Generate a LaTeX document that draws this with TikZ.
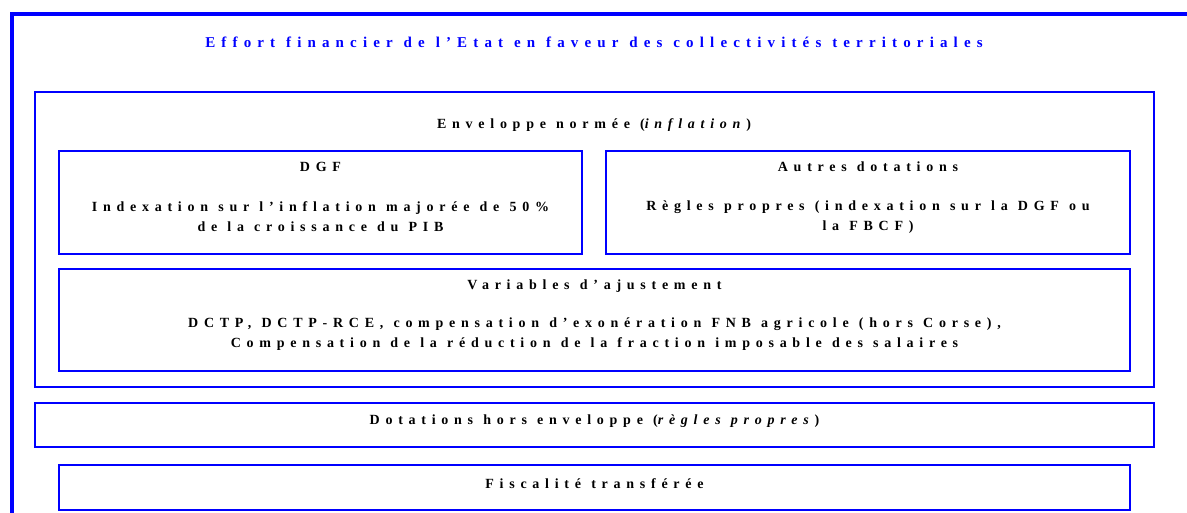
\documentclass[tikz,border=0pt]{standalone}
\usepackage{fontspec}
\setmainfont{Liberation Serif}
\newfontfamily\titlefont[LetterSpace=41,WordSpace=1.15]{Liberation Serif}
\newfontfamily\spacedfont[LetterSpace=41,WordSpace=1.1]{Liberation Serif}
\usetikzlibrary{positioning}
\definecolor{frameblue}{RGB}{0,0,255}
\newcommand{\boxfont}{\fontsize{14}{20}\spacedfont\bfseries}
\newcommand{\headfont}{\fontsize{15}{20}\titlefont\bfseries}
\begin{document}
\begin{tikzpicture}[x=1pt,y=-1pt,line join=miter,
  box/.style={draw=frameblue,line width=1.7pt,anchor=north west,inner sep=0pt,outer sep=0pt},
  lbl/.style={font=\boxfont,align=center,inner sep=0pt}]
\useasboundingbox (0,0) rectangle (1187,512);
\clip (0,0) rectangle (1187,512);
% cadre general
\draw[frameblue,line width=3.4pt] (12,540) rectangle (1220,14);
\node[lbl,font=\headfont,text=frameblue] (titre) at (594,42) {Effort financier de l’Etat en faveur des collectivités territoriales};
% enveloppe normee
\node[box,minimum width=1119,minimum height=295] (env) at (35,92) {};
\node[lbl] (envlbl) at (594,125) {Enveloppe normée (\textit{inflation})};
\node[box,minimum width=523,minimum height=103] (dgf) at (59,151) {};
\node[lbl] (dgflbl) at (dgf.center |- 0,167) {DGF};
\node[lbl] (dgftxt) at (dgf.center |- 0,217) {Indexation sur l’inflation majorée de 50\%\\de la croissance du PIB};
\node[box,minimum width=524,minimum height=103] (autres) at (606,151) {};
\node[lbl] (autreslbl) at (autres.center |- 0,167) {Autres dotations};
\node[lbl] (autrestxt) at (autres.center |- 0,217) {Règles propres (indexation sur la DGF ou\\la FBCF)};
\node[box,minimum width=1071,minimum height=102] (var) at (59,269) {};
\node[lbl] (varlbl) at (var.center |- 0,286) {Variables d’ajustement};
\node[lbl] (vartxt) at (var.center |- 0,334) {DCTP, DCTP-RCE, compensation d’exonération FNB agricole (hors Corse),\\Compensation de la réduction de la fraction imposable des salaires};
% hors enveloppe
\node[box,minimum width=1119,minimum height=44] (hors) at (35,403) {};
\node[lbl] (horslbl) at (hors.center |- 0,421) {Dotations hors enveloppe (\textit{règles propres})};
\node[box,minimum width=1071,minimum height=45] (fisc) at (59,465) {};
\node[lbl] (fisclbl) at (fisc.center |- 0,484) {Fiscalité transférée};
\end{tikzpicture}
\end{document}
